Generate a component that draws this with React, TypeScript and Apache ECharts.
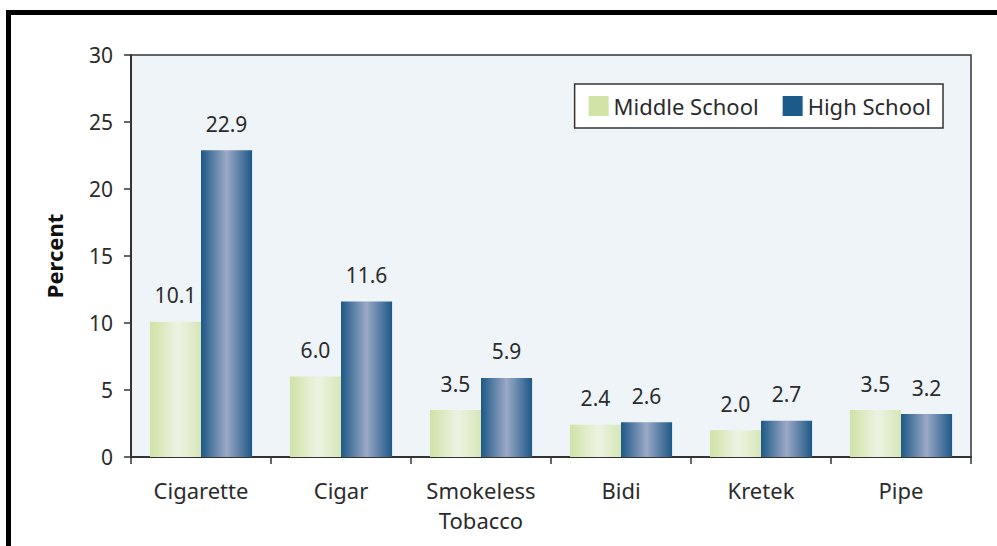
import React, { useEffect, useRef } from "react";
import * as echarts from "echarts";

const categories = ["Cigarette", "Cigar", "Smokeless\nTobacco", "Bidi", "Kretek", "Pipe"];
const middleSchool = [10.1, 6.0, 3.5, 2.4, 2.0, 3.5];
const highSchool = [22.9, 11.6, 5.9, 2.6, 2.7, 3.2];
const seriesNames = ["Middle School", "High School"];

export default function App() {
  const ref = useRef<HTMLDivElement>(null);
  useEffect(() => {
    const chart = echarts.init(ref.current!, null, { renderer: "svg" });
    const font = "Noto Sans";
    const greenGrad = new echarts.graphic.LinearGradient(0, 0, 1, 0, [
      { offset: 0, color: "#cfe2a5" },
      { offset: 0.55, color: "#edf3e2" },
      { offset: 1, color: "#d6e7b8" },
    ]);
    const blueGrad = new echarts.graphic.LinearGradient(0, 0, 1, 0, [
      { offset: 0, color: "#1d5887" },
      { offset: 0.5, color: "#9ba9c6" },
      { offset: 1, color: "#1d5887" },
    ]);
    const labelCfg = {
      show: true,
      position: "top" as const,
      distance: 16,
      fontFamily: font,
      fontSize: 21,
      color: "#2b2b2b",
      formatter: (p: any) => Number(p.value).toFixed(1),
    };
    chart.setOption({
      animation: false,
      textStyle: { fontFamily: font },
      graphic: [
        {
          type: "rect",
          shape: { x: 8.5, y: 12.5, width: 1100, height: 700 },
          style: { fill: "none", stroke: "#000", lineWidth: 5 },
          z: 100,
        },
      ],
      grid: {
        left: 131,
        top: 55,
        right: 26,
        bottom: 89,
        show: true,
        backgroundColor: "#eef4f8",
        borderColor: "#333",
        borderWidth: 1.5,
      },
      legend: {
        right: 54,
        top: 84,
        padding: [11, 12, 11, 14],
        backgroundColor: "#ffffff",
        borderColor: "#333",
        borderWidth: 1.5,
        borderRadius: 0,
        itemWidth: 20,
        itemHeight: 20,
        itemGap: 24,
        icon: "rect",
        textStyle: { fontFamily: font, fontSize: 22, color: "#2b2b2b" },
        data: [
          { name: seriesNames[0], itemStyle: { color: "#d0e4a8" } },
          { name: seriesNames[1], itemStyle: { color: "#1c5a8a" } },
        ],
      },
      xAxis: {
        type: "category",
        data: categories,
        axisLine: { lineStyle: { color: "#333", width: 2 } },
        axisTick: { show: true, length: 7, interval: 0, lineStyle: { color: "#333", width: 1.5 } },
        axisLabel: {
          interval: 0,
          fontFamily: font,
          fontSize: 22,
          color: "#2b2b2b",
          margin: 18,
          lineHeight: 30,
        },
      },
      yAxis: {
        type: "value",
        min: 0,
        max: 30,
        interval: 5,
        name: "Percent",
        nameLocation: "middle",
        nameGap: 66,
        nameTextStyle: { fontFamily: font, fontSize: 22, fontWeight: "bold", color: "#111" },
        splitLine: { show: false },
        axisLine: { show: true, lineStyle: { color: "#333", width: 2 } },
        axisTick: { show: true, length: 7, lineStyle: { color: "#333", width: 1.5 } },
        axisLabel: { fontFamily: font, fontSize: 21, color: "#2b2b2b", margin: 18 },
      },
      series: [
        {
          name: seriesNames[0],
          type: "bar",
          data: middleSchool,
          barGap: "0%",
          barCategoryGap: "27%",
          itemStyle: { color: greenGrad },
          label: labelCfg,
        },
        {
          name: seriesNames[1],
          type: "bar",
          data: highSchool,
          barGap: "0%",
          barCategoryGap: "27%",
          itemStyle: { color: blueGrad },
          label: labelCfg,
        },
      ],
    });
    return () => chart.dispose();
  }, []);
  return (
    <div
      ref={ref}
      style={{ position: "fixed", left: 0, top: 0, width: 997, height: 546, background: "#fff" }}
    />
  );
}
